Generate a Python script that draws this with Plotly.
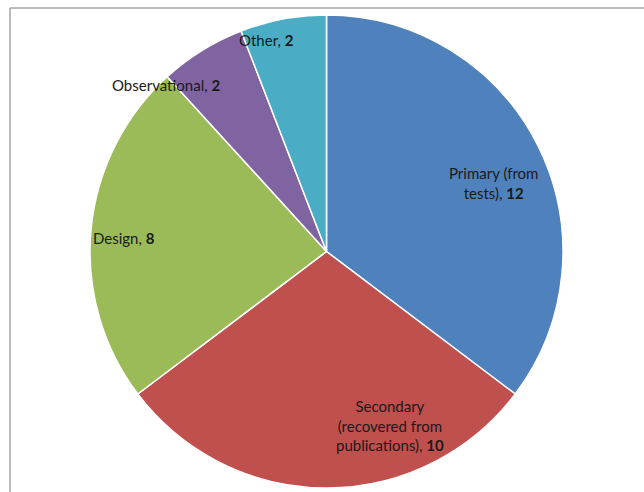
import plotly.graph_objects as go

labels = ["Primary (from tests)", "Secondary (recovered from publications)", "Design", "Observational", "Other"]
values = [12, 10, 8, 2, 2]
colors = ["#4F81BD", "#C0504D", "#9BBB59", "#8064A2", "#4BACC6"]
label_text = ["Primary (from<br>tests), ", "Secondary<br>(recovered from<br>publications), ", "Design, ", "Observational, ", "Other, "]
# label centre positions in reference pixels (x from left, y from top)
label_px = [(494, 183), (390, 425), (124, 238), (166, 85), (266, 40)]

W, H = 644, 492
cx, cy, r = 326.5, 251.5, 236.5

fig = go.Figure(go.Pie(
    labels=labels, values=values, sort=False, direction="clockwise", rotation=0,
    marker=dict(colors=colors, line=dict(color="white", width=1.5)),
    textinfo="none", hoverinfo="label+value", showlegend=False,
    domain=dict(x=[(cx - r) / W, (cx + r) / W], y=[(H - cy - r) / H, (H - cy + r) / H]),
))

for t, v, (px, py) in zip(label_text, values, label_px):
    fig.add_annotation(x=px / W, y=1 - py / H, xref="paper", yref="paper",
                       text=f"{t}<b>{v}</b>", showarrow=False,
                       font=dict(family="Lato", size=15, color="#1a1a1a"),
                       align="center", xanchor="center", yanchor="middle")

# frame: left and top edges only (the rest lies outside the picture)
fx, fy = 10 / W, 1 - 8 / H
fig.add_shape(type="line", xref="paper", yref="paper", x0=fx, x1=fx, y0=0, y1=fy,
              line=dict(color="#a6a6a6", width=1.5), layer="below")
fig.add_shape(type="line", xref="paper", yref="paper", x0=fx, x1=1, y0=fy, y1=fy,
              line=dict(color="#a6a6a6", width=1.5), layer="below")

fig.update_layout(width=W, height=H, margin=dict(l=0, r=0, t=0, b=0),
                  paper_bgcolor="white", plot_bgcolor="white")
fig.write_html("out.html", config={"displayModeBar": False},
               post_script="document.body.style.margin='0';document.body.style.overflow='hidden';")
